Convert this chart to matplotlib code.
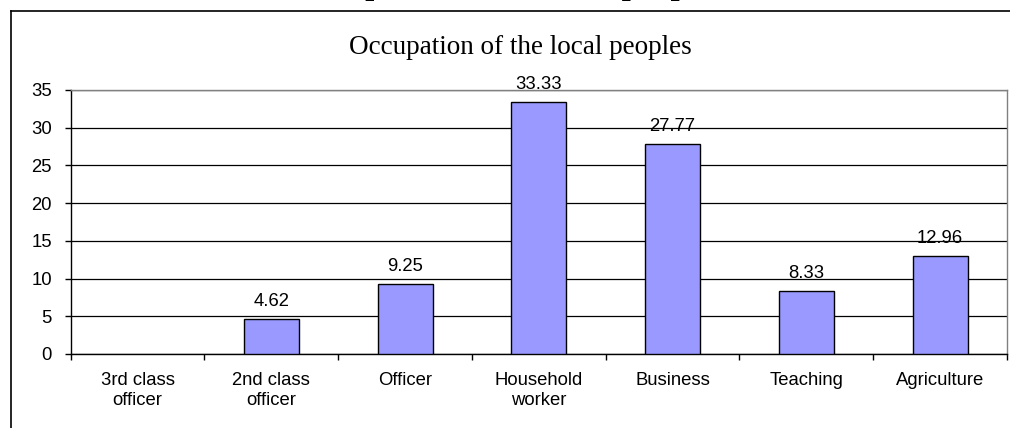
import numpy as np
import matplotlib
matplotlib.use("Agg")
import matplotlib.pyplot as plt
from matplotlib.lines import Line2D

# data
categories = ["3rd class\nofficer", "2nd class\nofficer", "Officer",
              "Household\nworker", "Business", "Teaching", "Agriculture"]
values = [0, 4.62, 9.25, 33.33, 27.77, 8.33, 12.96]
yticks = [0, 5, 10, 15, 20, 25, 30, 35]

plt.rcParams['font.family'] = ['Liberation Sans', 'DejaVu Sans']
fs = 13.3

fig = plt.figure(figsize=(10.10, 4.28), dpi=100)
ax = fig.add_axes([0.070, 0.173, 0.927, 0.617])

x = np.arange(len(categories))
bars = ax.bar(x, values, width=0.41, color='#9999FF', edgecolor='black',
              linewidth=1, zorder=3)
# a zero-height bar shows nothing in the reference
for b, v in zip(bars, values):
    if v == 0:
        b.set_linewidth(0)

for xi, v in zip(x, values):
    if v > 0:
        ax.annotate(f"{v:.2f}", (xi, v), xytext=(0, 9.5), textcoords='offset points',
                    ha='center', va='baseline', fontsize=fs, zorder=4)

ax.set_xlim(-0.5, len(categories) - 0.5)
ax.set_ylim(0, 35)
ax.set_yticks(yticks)
ax.tick_params(axis='y', labelsize=fs, length=4.5, width=1, pad=9, direction='out')
ax.yaxis.grid(True, color='black', linewidth=0.9, zorder=0)
ax.set_axisbelow(True)

ax.set_xticks(x)
ax.set_xticklabels(categories, fontsize=fs, linespacing=1.22, va='top')
ax.set_xticks(np.arange(len(categories) + 1) - 0.5, minor=True)
ax.tick_params(axis='x', which='major', length=0, pad=13)
ax.tick_params(axis='x', which='minor', length=4, width=1, direction='out')

for side in ['left', 'bottom']:
    ax.spines[side].set_color('black')
    ax.spines[side].set_linewidth(1)
for side in ['top', 'right']:
    ax.spines[side].set_color('#808080')
    ax.spines[side].set_linewidth(1)

# inner chart title
fig.text(520 / 1010, 1 - 47 / 428, "Occupation of the local peoples",
         family=['Liberation Serif', 'DejaVu Serif'], fontsize=19.5,
         ha='center', va='center')

# outer bold caption, cut off at the top edge (only descenders show)
fig.text(293 / 1010, 1 + 6 / 428, "Occupation of the local peoples",
         family=['Liberation Serif', 'DejaVu Serif'], fontsize=23.4,
         fontweight='bold', ha='left', va='baseline')

# chart area frame (left and top edges visible)
fig.add_artist(Line2D([11 / 1010, 11 / 1010], [0, 1 - 11 / 428],
                      transform=fig.transFigure, color='black', linewidth=1.2))
fig.add_artist(Line2D([11 / 1010, 1], [1 - 11 / 428, 1 - 11 / 428],
                      transform=fig.transFigure, color='black', linewidth=1.2))

fig.savefig("out.png", dpi=100)
